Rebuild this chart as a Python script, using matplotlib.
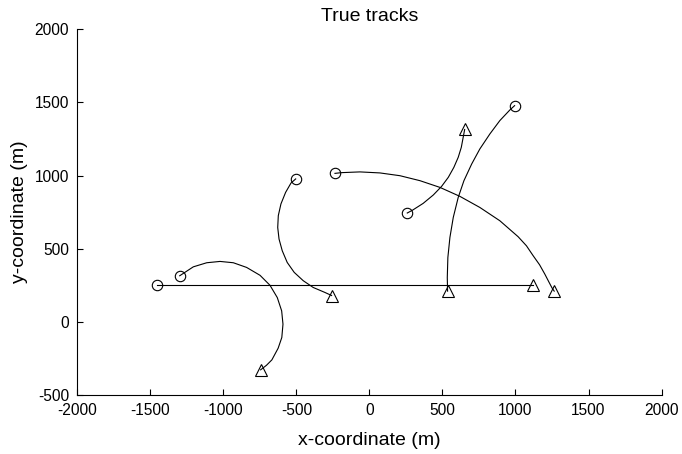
import numpy as np
import matplotlib.pyplot as plt

plt.rcParams['font.family'] = ['Liberation Sans', 'DejaVu Sans']
plt.rcParams['axes.unicode_minus'] = False

# --- track points (metres) ---
t1_x = [-1457, 1121]
t1_y = [250, 250]

t2_x = [-1299, -1206, -1114, -1023, -932, -841, -749, -681, -631, -601, -592,
        -600, -625, -668, -705, -745]
t2_y = [315, 376, 404, 413, 404, 372, 318, 250, 166, 75, -16,
        -107, -180, -260, -297, -328]

t3_x = [-505, -537, -574, -606, -624, -628, -619, -597, -563, -515, -453,
        -385, -305, -259]
t3_y = [977, 949, 885, 806, 726, 645, 566, 486, 406, 338, 281,
        235, 201, 180]

t4_x = [-236, -190, -65, 72, 209, 346, 483, 619, 756, 893, 1018, 1075, 1121,
        1165, 1201, 1230, 1250, 1265]
t4_y = [1015, 1020, 1025, 1018, 999, 965, 919, 858, 782, 691, 582, 520, 452,
        390, 326, 270, 232, 210]

t5_x = [259, 296, 368, 437, 494, 540, 578, 608, 629, 642, 652]
t5_y = [744, 764, 810, 867, 926, 988, 1056, 1125, 1193, 1262, 1315]

t6_x = [994, 962, 893, 825, 756, 700, 647, 608, 574, 551, 537, 533, 535]
t6_y = [1478, 1449, 1376, 1285, 1182, 1079, 965, 851, 714, 577, 440, 303, 210]

tracks = [(t1_x, t1_y), (t2_x, t2_y), (t3_x, t3_y),
          (t4_x, t4_y), (t5_x, t5_y), (t6_x, t6_y)]

fig = plt.figure(figsize=(6.82, 4.54), dpi=100)
ax = fig.add_axes([0.1134, 0.130, 0.8566, 0.8055])

for xs, ys in tracks:
    ax.plot(xs, ys, color='k', lw=0.8)
    ax.plot(xs[0], ys[0], 'o', mfc='none', mec='k', ms=7.5, mew=0.8)
    ax.plot(xs[-1], ys[-1], '^', mfc='none', mec='k', ms=8.5, mew=0.8)

ax.set_xlim(-2000, 2000)
ax.set_ylim(-500, 2000)
ax.set_xticks(np.arange(-2000, 2001, 500))
ax.set_yticks(np.arange(-500, 2001, 500))
ax.tick_params(direction='in', length=4.5, width=0.8, labelsize=11.2,
               pad=6)
for s in ['top', 'right']:
    ax.spines[s].set_visible(False)
for s in ['left', 'bottom']:
    ax.spines[s].set_linewidth(0.8)

ax.set_xlabel('x-coordinate (m)', fontsize=14, labelpad=10)
ax.set_ylabel('y-coordinate (m)', fontsize=14, labelpad=5)
ax.set_title('True tracks', fontsize=14, pad=6)

fig.savefig('out.png', dpi=100)
